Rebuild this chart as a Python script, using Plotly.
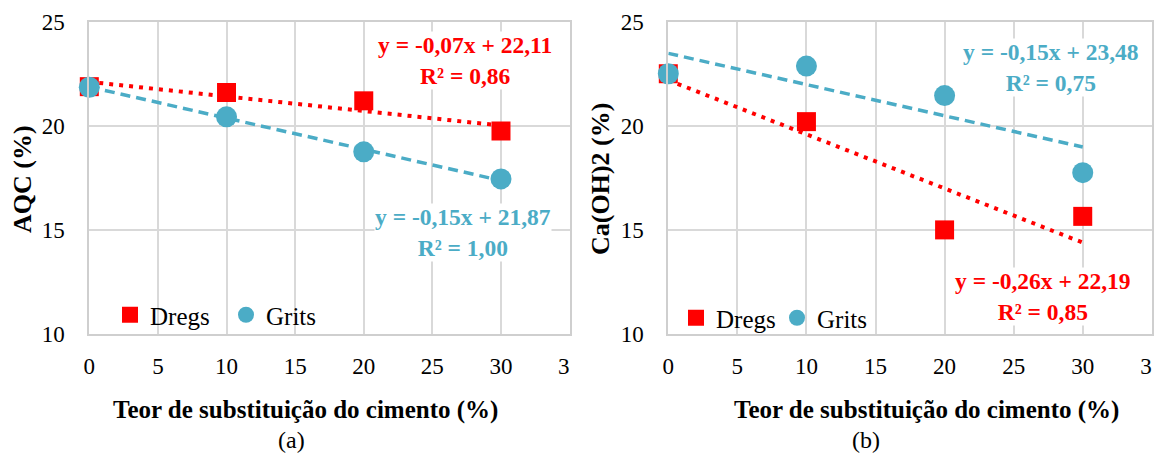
import plotly.graph_objects as go

# Substitution content of cement (%)
teor = [0, 10, 20, 30]

# Panel (a): AQC (%)
aqc_dregs = [21.88, 21.60, 21.20, 19.75]
aqc_grits = [21.85, 20.43, 18.75, 17.45]

# Panel (b): Ca(OH)2 (%)
caoh_dregs = [22.50, 20.20, 15.00, 15.65]
caoh_grits = [22.50, 22.87, 21.45, 17.75]

# Linear trend coefficients (slope, intercept) and R²
trend_a_dregs = (-0.07, 22.11, 0.86)
trend_a_grits = (-0.15, 21.87, 1.00)
trend_b_dregs = (-0.26, 22.19, 0.85)
trend_b_grits = (-0.15, 23.48, 0.75)

x_ticks = [0, 5, 10, 15, 20, 25, 30, 35]
x_ticktext = ["0", "5", "10", "15", "20", "25", "30", "3\u2002"]
y_ticks = [10, 15, 20, 25]

RED = "#FF0000"
BLUE = "#4BACC6"
GRID = "#D9D9D9"
FONT = "Times New Roman, Liberation Serif, Tinos, DejaVu Serif, serif"

W, H = 1164, 457


def px_x(x):
    """Pixel x -> paper fraction."""
    return x / W


def px_y(y):
    """Pixel y (from top) -> paper fraction."""
    return 1 - y / H


def fmt(v):
    return f"{v:.2f}".replace(".", ",")


def eq_text(coef):
    m, b, r2 = coef
    sign = "-" if m < 0 else ""
    return f"y = {sign}{fmt(abs(m))}x + {fmt(b)}<br>R² = {fmt(r2)}"


def trend_y(coef, xs):
    m, b, _ = coef
    return [m * x + b for x in xs]


fig = go.Figure()

trend_x = [teor[0], teor[-1]]
panels = [
    ("x", "y", "legend", aqc_dregs, aqc_grits, trend_a_dregs, trend_a_grits),
    ("x2", "y2", "legend2", caoh_dregs, caoh_grits, trend_b_dregs, trend_b_grits),
]
for xa, ya, leg, dregs, grits, td, tg in panels:
    fig.add_trace(go.Scatter(
        x=trend_x, y=trend_y(tg, trend_x), xaxis=xa, yaxis=ya, mode="lines",
        line=dict(color=BLUE, width=3.5, dash="10px,6px"), showlegend=False,
        hoverinfo="skip", cliponaxis=False))
    fig.add_trace(go.Scatter(
        x=trend_x, y=trend_y(td, trend_x), xaxis=xa, yaxis=ya, mode="lines",
        line=dict(color=RED, width=4, dash="4px,6px"), showlegend=False,
        hoverinfo="skip", cliponaxis=False))
    fig.add_trace(go.Scatter(
        x=teor, y=dregs, xaxis=xa, yaxis=ya, mode="markers", name="Dregs",
        marker=dict(symbol="square", size=19, color=RED), legend=leg,
        cliponaxis=False))
    fig.add_trace(go.Scatter(
        x=teor, y=grits, xaxis=xa, yaxis=ya, mode="markers", name="Grits",
        marker=dict(symbol="circle", size=21, color=BLUE), legend=leg,
        cliponaxis=False))

axis_common = dict(
    showgrid=True, gridcolor=GRID, gridwidth=1.5, zeroline=False,
    showline=True, linecolor="#CFCFCF", linewidth=2, mirror=True,
    automargin=False,
    ticks="", tickfont=dict(family=FONT, size=23, color="black"),
)

x_dom1 = [px_x(89.3), px_x(569.6)]
x_dom2 = [px_x(668.3), px_x(1151.8)]
y_dom = [px_y(334), px_y(21.7)]

fig.update_layout(
    width=W, height=H,
    margin=dict(l=0, r=0, t=0, b=0, pad=0, autoexpand=False),
    paper_bgcolor="white", plot_bgcolor="white",
    font=dict(family=FONT, color="black"),
    xaxis=dict(domain=x_dom1, range=[0, 35], tickvals=x_ticks, ticktext=x_ticktext,
               anchor="y", ticklabelstandoff=10, **axis_common),
    yaxis=dict(domain=y_dom, range=[10, 25], tickvals=y_ticks, anchor="x",
               ticklabelstandoff=18, **axis_common),
    xaxis2=dict(domain=x_dom2, range=[0, 35], tickvals=x_ticks, ticktext=x_ticktext,
                anchor="y2", ticklabelstandoff=10, **axis_common),
    yaxis2=dict(domain=y_dom, range=[10, 25], tickvals=y_ticks, anchor="x2",
                ticklabelstandoff=18, **axis_common),
    legend=dict(x=px_x(110), y=px_y(338), xanchor="left", yanchor="bottom",
                orientation="h", bgcolor="rgba(0,0,0,0)", borderwidth=0,
                font=dict(family=FONT, size=25, color="black"),
                itemsizing="trace", entrywidth=71, tracegroupgap=0),
    legend2=dict(x=px_x(676), y=px_y(341), xanchor="left", yanchor="bottom",
                 orientation="h", bgcolor="rgba(0,0,0,0)", borderwidth=0,
                 font=dict(family=FONT, size=25, color="black"),
                 itemsizing="trace", entrywidth=56, tracegroupgap=0),
    showlegend=True,
)

# White legend panels that mask the gridlines behind each legend
fig.add_shape(type="rect", xref="paper", yref="paper", layer="between",
              x0=px_x(96), x1=px_x(338), y0=px_y(333), y1=px_y(295),
              fillcolor="white", line_width=0)
fig.add_shape(type="rect", xref="paper", yref="paper", layer="between",
              x0=px_x(670), x1=px_x(880), y0=px_y(333), y1=px_y(295),
              fillcolor="white", line_width=0)

ann = []
labels = [
    (465, 60, trend_a_dregs, RED),
    (463, 233, trend_a_grits, BLUE),
    (1051, 68, trend_b_grits, BLUE),
    (1043, 296, trend_b_dregs, RED),
]
for px, py, coef, col in labels:
    ann.append(dict(
        x=px_x(px), y=px_y(py), xref="paper", yref="paper",
        text="<b>" + eq_text(coef) + "</b>", showarrow=False,
        font=dict(family=FONT, size=23.5, color=col),
        bgcolor="white", borderpad=0, align="center",
        xanchor="center", yanchor="middle"))

title_font = dict(family=FONT, size=25, color="black")
ann += [
    dict(x=px_x(305), y=px_y(410), text="<b>Teor de substituição do cimento (%)</b>",
         font=title_font),
    dict(x=px_x(927), y=px_y(410), text="<b>Teor de substituição do cimento (%)</b>",
         font=title_font),
    dict(x=px_x(22), y=px_y(179), text="<b>AQC (%)</b>",
         font=dict(family=FONT, size=26, color="black"), textangle=-90),
    dict(x=px_x(600), y=px_y(179), text="<b>Ca(OH)2 (%)</b>",
         font=dict(family=FONT, size=26, color="black"), textangle=-90),
    dict(x=px_x(291), y=px_y(440), text="(a)", font=dict(family=FONT, size=24, color="black")),
    dict(x=px_x(866), y=px_y(440), text="(b)", font=dict(family=FONT, size=24, color="black")),
]
for a in ann[4:]:
    a.update(xref="paper", yref="paper", showarrow=False,
             xanchor="center", yanchor="middle")

fig.update_layout(annotations=ann)

fig.write_html("out.html")
